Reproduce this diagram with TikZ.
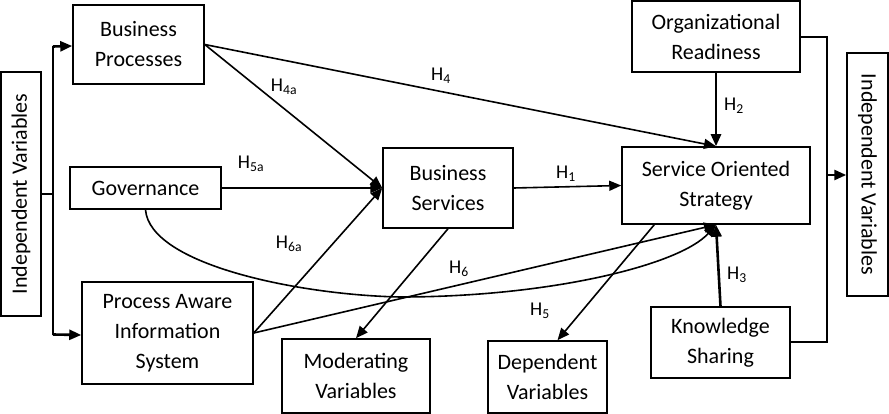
\documentclass[tikz,border=0pt]{standalone}
\usepackage{fontspec}
\setmainfont{Carlito}
\usetikzlibrary{arrows.meta,calc}
\tikzset{
  box/.style={draw, line width=1.5pt, inner sep=0pt, align=center,
    font=\fontsize{22}{30}\selectfont},
  conn/.style={line width=1.6pt, -{Triangle[length=12pt,width=10pt]}},
  thickconn/.style={line width=2.6pt, -{Triangle[length=12pt,width=10pt]}},
  plainthick/.style={line width=2.6pt},
  hlab/.style={font=\fontsize{19.5}{22}\selectfont, inner sep=0pt}
}
\begin{document}
\begin{tikzpicture}[x=1pt,y=-1pt]
\useasboundingbox (0,0) rectangle (889,414);
% boxes
\node[box, rotate=90, minimum width=244pt, minimum height=40pt] (L) at (21,194) {Independent Variables};
\node[box, rotate=-90, minimum width=243pt, minimum height=41pt] (R) at (867.5,174.5) {Independent Variables};
\node[box, minimum width=131pt, minimum height=79pt] (BP) at (138.5,44.5) {Business\\Processes};
\node[box, minimum width=151pt, minimum height=42pt] (GOV) at (145.5,188) {Governance};
\node[box, minimum width=171pt, minimum height=102pt] (PAIS) at (167.5,333) {Process Aware\\Information\\System};
\node[box, minimum width=130pt, minimum height=80pt] (BS) at (448,188) {Business\\Services};
\node[box, minimum width=188pt, minimum height=77pt] (SOS) at (716,185.5) {Service Oriented\\Strategy};
\node[box, minimum width=168pt, minimum height=71pt] (OR) at (716,36.5) {Organizational\\Readiness};
\node[box, minimum width=139pt, minimum height=71pt] (KS) at (720.5,342.5) {Knowledge\\Sharing};
\node[box, minimum width=148pt, minimum height=74pt] (MOD) at (356,376) {Moderating\\Variables};
\node[box, minimum width=119pt, minimum height=72pt] (DEP) at (547.5,377) {Dependent\\Variables};
% left distribution connector
\coordinate (lj) at (53,194);
\coordinate (ltop) at (53,46);
\coordinate (lbot) at (53,335);
\draw[plainthick] (L.south |- lj) -- (lj);
\draw[plainthick] (ltop) -- (lbot);
\draw[thickconn] ([yshift=-0.5pt]ltop) -- (BP.west |- ltop);
\draw[thickconn] ([yshift=0.5pt]lbot) -- (PAIS.west |- lbot);
% right distribution connector
\coordinate (rtop) at (827,37);
\coordinate (rbot) at (827,342);
\coordinate (rmid) at (827,175);
\draw[plainthick] (OR.east |- rtop) -- (rtop) -- (rbot) -- (KS.east |- rbot);
\draw[thickconn] (rmid) -- (R.south |- rmid);
% hypotheses
\draw[conn] (BP.east) -- (SOS.north);
\draw[conn] (BP.east) -- (BS.west);
\draw[conn] (GOV.east) -- (BS.west);
\draw[conn] (PAIS.east) -- (BS.west);
\draw[conn] (PAIS.east) -- (SOS.south);
\draw[conn] (GOV.south) .. controls (150,265) and (300,295) .. (400,297)
   .. controls (550,297) and (680,265) .. (SOS.south);
\draw[conn] (BS.south) -- (MOD.north);
\draw[conn] ([xshift=33pt]SOS.south west) -- ([xshift=10pt]DEP.north);
\draw[conn] (BS.east) -- (SOS.west);
\draw[thickconn] (OR.south) -- (SOS.north);
\draw[thickconn] (KS.north) -- (SOS.south);
% labels
\node[hlab] (h4) at (441,76) {H\textsubscript{4}};
\node[hlab] (h4a) at (284,87) {H\textsubscript{4a}};
\node[hlab] (h5a) at (251,164) {H\textsubscript{5a}};
\node[hlab] (h6a) at (289,244) {H\textsubscript{6a}};
\node[hlab] (h6) at (459,269) {H\textsubscript{6}};
\node[hlab] (h1) at (566,174) {H\textsubscript{1}};
\node[hlab] (h2) at (734,106) {H\textsubscript{2}};
\node[hlab] (h3) at (737,275) {H\textsubscript{3}};
\node[hlab] (h5) at (540,311) {H\textsubscript{5}};
\end{tikzpicture}
\end{document}
